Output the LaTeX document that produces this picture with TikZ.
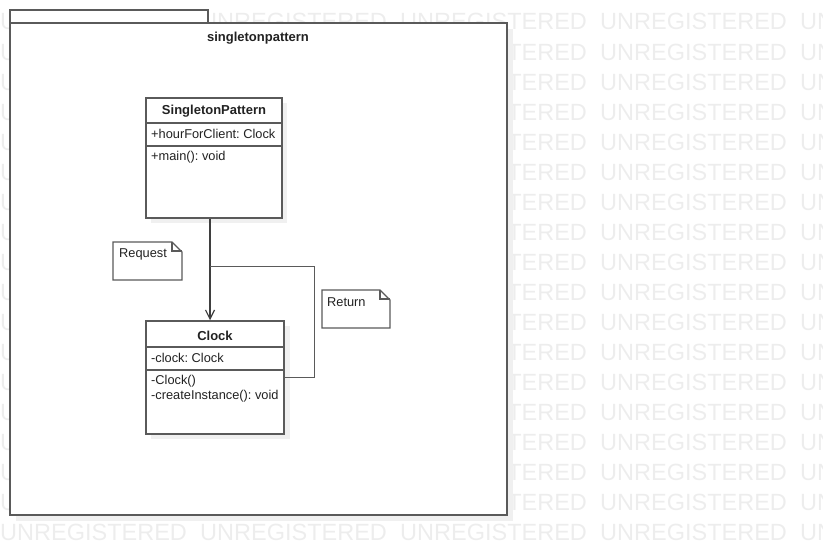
\documentclass[tikz,border=0pt]{standalone}
\usepackage{fontspec}
\setmainfont{Liberation Sans}
\usetikzlibrary{arrows.meta}
\frenchspacing
\definecolor{wmgray}{RGB}{237,237,237}
\definecolor{shadowgray}{RGB}{240,240,240}
\definecolor{linegray}{RGB}{90,90,90}
\definecolor{txt}{RGB}{34,34,34}
\tikzset{
  wm/.style={anchor=base west,inner sep=0pt,text=wmgray,font=\fontsize{23.5}{24}\selectfont},
  frame/.style={draw=linegray,line width=1.6pt,fill=white},
  shadowbox/.style={fill=shadowgray,draw=none},
  classbox/.style={draw=linegray,line width=1.5pt,fill=white,inner sep=0pt},
  ctitle/.style={inner sep=0pt,text=txt,font=\bfseries\fontsize{13}{15}\selectfont},
  member/.style={anchor=west,inner sep=0pt,text=txt,font=\fontsize{12.8}{15}\selectfont},
  notebox/.style={draw=linegray,line width=1.4pt,fill=white,line join=miter},
  conn/.style={draw=linegray,line width=1pt},
}
\begin{document}
\begin{tikzpicture}[x=1pt,y=-1pt]
\useasboundingbox (0,0) rectangle (823,554);
% watermark
\foreach \k in {0,...,17}{
  \foreach \i in {0,...,4}{
    \node[wm] (wm-\i-\k) at (200*\i,30+30*\k) {UNREGISTERED};
  }
}
% package
\fill[shadowgray] (16,29) rectangle (513,521);
\draw[frame] (10,10) rectangle (208,23);
\draw[frame] (10,23) rectangle (507,515);
\node[ctitle] (pkgname) at (258,38.5) {singletonpattern};
% SingletonPattern class
\fill[shadowgray] (151,103) rectangle (287,223);
\node[classbox,minimum width=136pt,minimum height=120pt] (sp) at (214,158) {};
\draw[linegray,line width=1.5pt] (sp.west |- {(0,123)}) -- (sp.east |- {(0,123)});
\draw[linegray,line width=1.5pt] (sp.west |- {(0,146)}) -- (sp.east |- {(0,146)});
\node[ctitle] (sptitle) at (214,111.5) {SingletonPattern};
\node[member] (spattr) at (151,134) {+hourForClient: Clock};
\node[member] (spop) at (151,157) {+main(): void};
% Clock class
\fill[shadowgray] (151,326) rectangle (290,439);
\node[classbox,minimum width=138pt,minimum height=113pt] (clock) at (215,377.5) {};
\draw[linegray,line width=1.5pt] (clock.west |- {(0,347)}) -- (clock.east |- {(0,347)});
\draw[linegray,line width=1.5pt] (clock.west |- {(0,370)}) -- (clock.east |- {(0,370)});
\node[ctitle] (cltitle) at (215,335.5) {Clock};
\node[member] (clattr) at (151,358) {-clock: Clock};
\node[member] (clop1) at (151,381) {-Clock()};
\node[member] (clop2) at (151,396) {-createInstance(): void};
% notes
\draw[notebox] (113,242) -- (172,242) -- (182,252) -- (182,280) -- (113,280) -- cycle;
\draw[linegray,line width=1.2pt] (172,242) -- (172,251) -- (182,251);
\node[member] (req) at (119,254.5) {Request};
\draw[notebox] (322,290) -- (380,290) -- (390,300) -- (390,328) -- (322,328) -- cycle;
\draw[linegray,line width=1.2pt] (380,290) -- (380,299) -- (390,299);
\node[member] (ret) at (327,302.5) {Return};
% connectors
\coordinate (rj) at (210,266);
\draw[draw=linegray!70!black,line width=1.6pt,-{Straight Barb[length=9pt,width=9pt,line width=1.2pt]}] ([xshift=-4pt]sp.south) -- ([xshift=-4pt]sp.south |- clock.north);
\draw[conn] (clock.east |- {(0,377.5)}) -| (314,266) -- (rj);
\end{tikzpicture}
\end{document}
